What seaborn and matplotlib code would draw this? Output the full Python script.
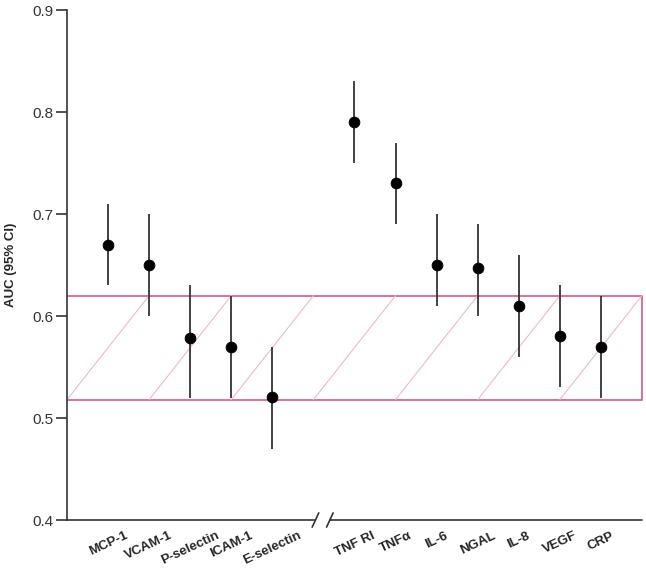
import numpy as np
import pandas as pd
import matplotlib
matplotlib.use("Agg")
import matplotlib.pyplot as plt
import seaborn as sns

# Markers and AUC values
markers = ["MCP-1", "VCAM-1", "P-selectin", "ICAM-1", "E-selectin",
           "TNF RI", "TNF\u03b1", "IL-6", "NGAL", "IL-8", "VEGF", "CRP"]
positions = [0, 1, 2, 3, 4, 6, 7, 8, 9, 10, 11, 12]
auc = [0.67, 0.65, 0.578, 0.57, 0.521, 0.79, 0.73, 0.65, 0.647, 0.61, 0.58, 0.57]
ci_low = [0.63, 0.60, 0.52, 0.52, 0.47, 0.75, 0.69, 0.61, 0.60, 0.56, 0.53, 0.52]
ci_high = [0.71, 0.70, 0.63, 0.62, 0.57, 0.83, 0.77, 0.70, 0.69, 0.66, 0.63, 0.62]

# Reference band
band_low, band_high = 0.518, 0.62

df = pd.DataFrame({"marker": markers, "x": positions, "auc": auc,
                   "lo": ci_low, "hi": ci_high})

sns.set_theme(style="white")
plt.rcParams["font.family"] = ["Liberation Sans", "DejaVu Sans"]

fig = plt.figure(figsize=(6.46, 5.72), dpi=100)
ax = fig.add_axes([0.1037, 0.0909, 0.8901, 0.8916])

xmin, xmax = -1, 13
pink = "#d9668e"

# band: outline + diagonal hatch lines
ax.plot([xmin, xmax], [band_high, band_high], color=pink, lw=1.3, zorder=1)
ax.plot([xmin, xmax], [band_low, band_low], color=pink, lw=1.3, zorder=1)
ax.plot([xmax, xmax], [band_low, band_high], color=pink, lw=1.3, zorder=1,
        clip_on=False)
for x0 in np.arange(xmin, xmax, 2):
    ax.plot([x0, x0 + 2], [band_low, band_high], color="#f0b8c8", lw=0.8,
            zorder=1)

# confidence intervals and points
ax.vlines(df["x"], df["lo"], df["hi"], color="#333333", lw=1.3, zorder=2)
sns.scatterplot(data=df, x="x", y="auc", ax=ax, color="black", s=60,
                edgecolor="black", zorder=3, legend=False)

ax.set_xlim(xmin, xmax)
ax.set_ylim(0.4, 0.9)
ax.set_yticks([0.4, 0.5, 0.6, 0.7, 0.8, 0.9])
ax.set_yticklabels(["0.4", "0.5", "0.6", "0.7", "0.8", "0.9"])
ax.tick_params(axis="y", left=True, length=8, width=1.2, color="#333333",
               labelsize=11, labelcolor="#333333", pad=2)
ax.set_xticks(positions)
ax.set_xticklabels(markers, rotation=25, ha="center", fontsize=9.5,
                   fontweight="bold")
ax.tick_params(axis="x", bottom=False, length=0, pad=7)
ax.set_xlabel("")
ax.set_ylabel("AUC (95% CI)", fontsize=9.5, fontweight="bold", labelpad=11)

for side in ["top", "right", "bottom"]:
    ax.spines[side].set_visible(False)
ax.spines["left"].set_color("#333333")
ax.spines["left"].set_linewidth(1.2)

# broken x axis
ax.plot([xmin, 5.05], [0.4, 0.4], color="#333333", lw=1.2, clip_on=False)
ax.plot([5.4, xmax], [0.4, 0.4], color="#333333", lw=1.2, clip_on=False)
for bx in [5.05, 5.4]:
    ax.plot([bx - 0.08, bx + 0.08], [0.393, 0.407], color="#333333", lw=1.2,
            clip_on=False)

fig.savefig("out.png", dpi=100)
